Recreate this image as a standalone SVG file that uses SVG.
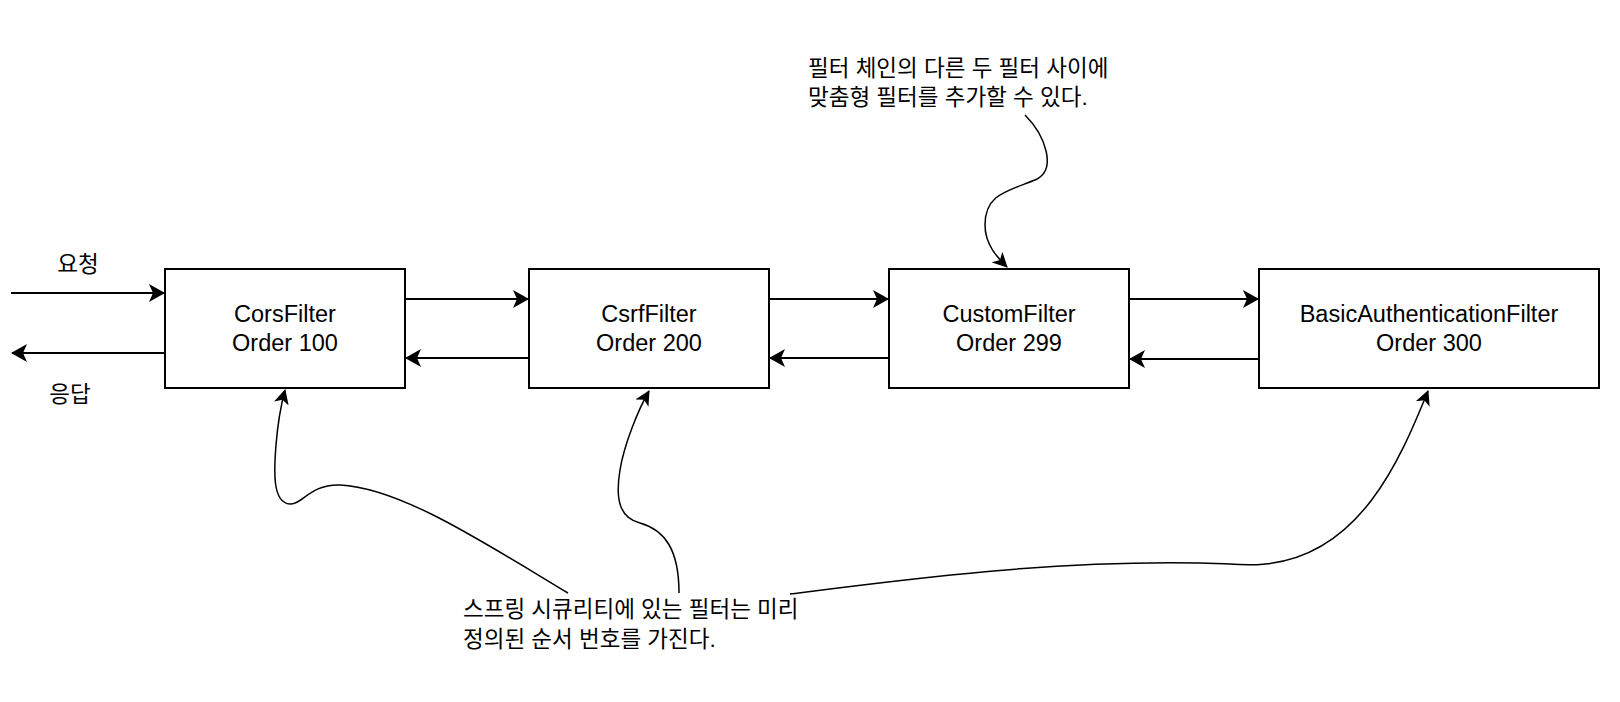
<svg xmlns="http://www.w3.org/2000/svg" width="1620" height="702" viewBox="0 0 1620 702">
<style>
.box{fill:#fff;stroke:#000;stroke-width:2}
.lbl{font-family:"Liberation Sans",Arial,sans-serif;font-size:23.5px;fill:#000;text-anchor:middle}
.kr{font-family:"Liberation Sans","Noto Sans CJK KR",sans-serif;font-size:22.5px;fill:#000}
.ln{fill:none;stroke:#000;stroke-width:2}
.cv{fill:none;stroke:#000;stroke-width:1.5}
</style>
<defs>
<marker id="arr" markerUnits="userSpaceOnUse" markerWidth="17" markerHeight="18" refX="15" refY="9" orient="auto">
<path d="M0,0 L16,9 L0,18 L4,9 Z" fill="#000"/>
</marker>
<marker id="arrc" markerUnits="userSpaceOnUse" markerWidth="16" markerHeight="15" refX="14" refY="7.5" orient="auto">
<path d="M0,0 L15,7.5 L0,15 L4,7.5 Z" fill="#000"/>
</marker>
</defs>
<rect width="1620" height="702" fill="#fff"/>
<g id="connectors">
<path class="ln" d="M11,293 H164" marker-end="url(#arr)"/>
<path class="ln" d="M165,353 H12" marker-end="url(#arr)"/>
<path class="ln" d="M405,299 H528" marker-end="url(#arr)"/>
<path class="ln" d="M529,358 H406" marker-end="url(#arr)"/>
<path class="ln" d="M769,299 H888" marker-end="url(#arr)"/>
<path class="ln" d="M889,358 H770" marker-end="url(#arr)"/>
<path class="ln" d="M1129,299 H1258" marker-end="url(#arr)"/>
<path class="ln" d="M1259,359 H1130" marker-end="url(#arr)"/>
<path class="cv" d="M568,593 C480,540 400,488 340,485 C310,484 302,505 290,504 C272,503 274,470 276,445 C278,420 281,405 285,390" marker-end="url(#arrc)"/>
<path class="cv" d="M679,593 C679,550 665,530 640,523 C620,518 615,500 620,470 C624,445 638,410 649,391" marker-end="url(#arrc)"/>
<path class="cv" d="M790,594 C900,580 1050,560 1200,563 C1240,564 1255,566 1265,564 C1360,555 1400,460 1428,391" marker-end="url(#arrc)"/>
<path class="cv" d="M1025,115 C1045,135 1058,170 1035,180 C1005,192 985,195 985,225 C985,245 998,258 1007,267" marker-end="url(#arrc)"/>
</g>
<g id="label-request"><text class="kr" x="78" y="272" text-anchor="middle" font-size="21">요청</text></g>
<g id="label-response"><text class="kr" x="70" y="402" text-anchor="middle" font-size="21">응답</text></g>
<g id="cors">
<rect class="box" x="165" y="269" width="240" height="119"/>
<text class="lbl" x="285" y="322">CorsFilter</text>
<text class="lbl" x="285" y="350.5">Order 100</text>
</g>
<g id="csrf">
<rect class="box" x="529" y="269" width="240" height="119"/>
<text class="lbl" x="649" y="322">CsrfFilter</text>
<text class="lbl" x="649" y="350.5">Order 200</text>
</g>
<g id="custom">
<rect class="box" x="889" y="269" width="240" height="119"/>
<text class="lbl" x="1009" y="322">CustomFilter</text>
<text class="lbl" x="1009" y="350.5">Order 299</text>
</g>
<g id="basic">
<rect class="box" x="1259" y="269" width="340" height="119"/>
<text class="lbl" x="1429" y="322">BasicAuthenticationFilter</text>
<text class="lbl" x="1429" y="350.5">Order 300</text>
</g>
<g id="note-custom">
<text class="kr" x="808" y="76">필터 체인의 다른 두 필터 사이에</text>
<text class="kr" x="808" y="105">맞춤형 필터를 추가할 수 있다.</text>
</g>
<g id="note-order">
<text class="kr" x="463" y="617">스프링 시큐리티에 있는 필터는 미리</text>
<text class="kr" x="463" y="647">정의된 순서 번호를 가진다.</text>
</g>
</svg>
